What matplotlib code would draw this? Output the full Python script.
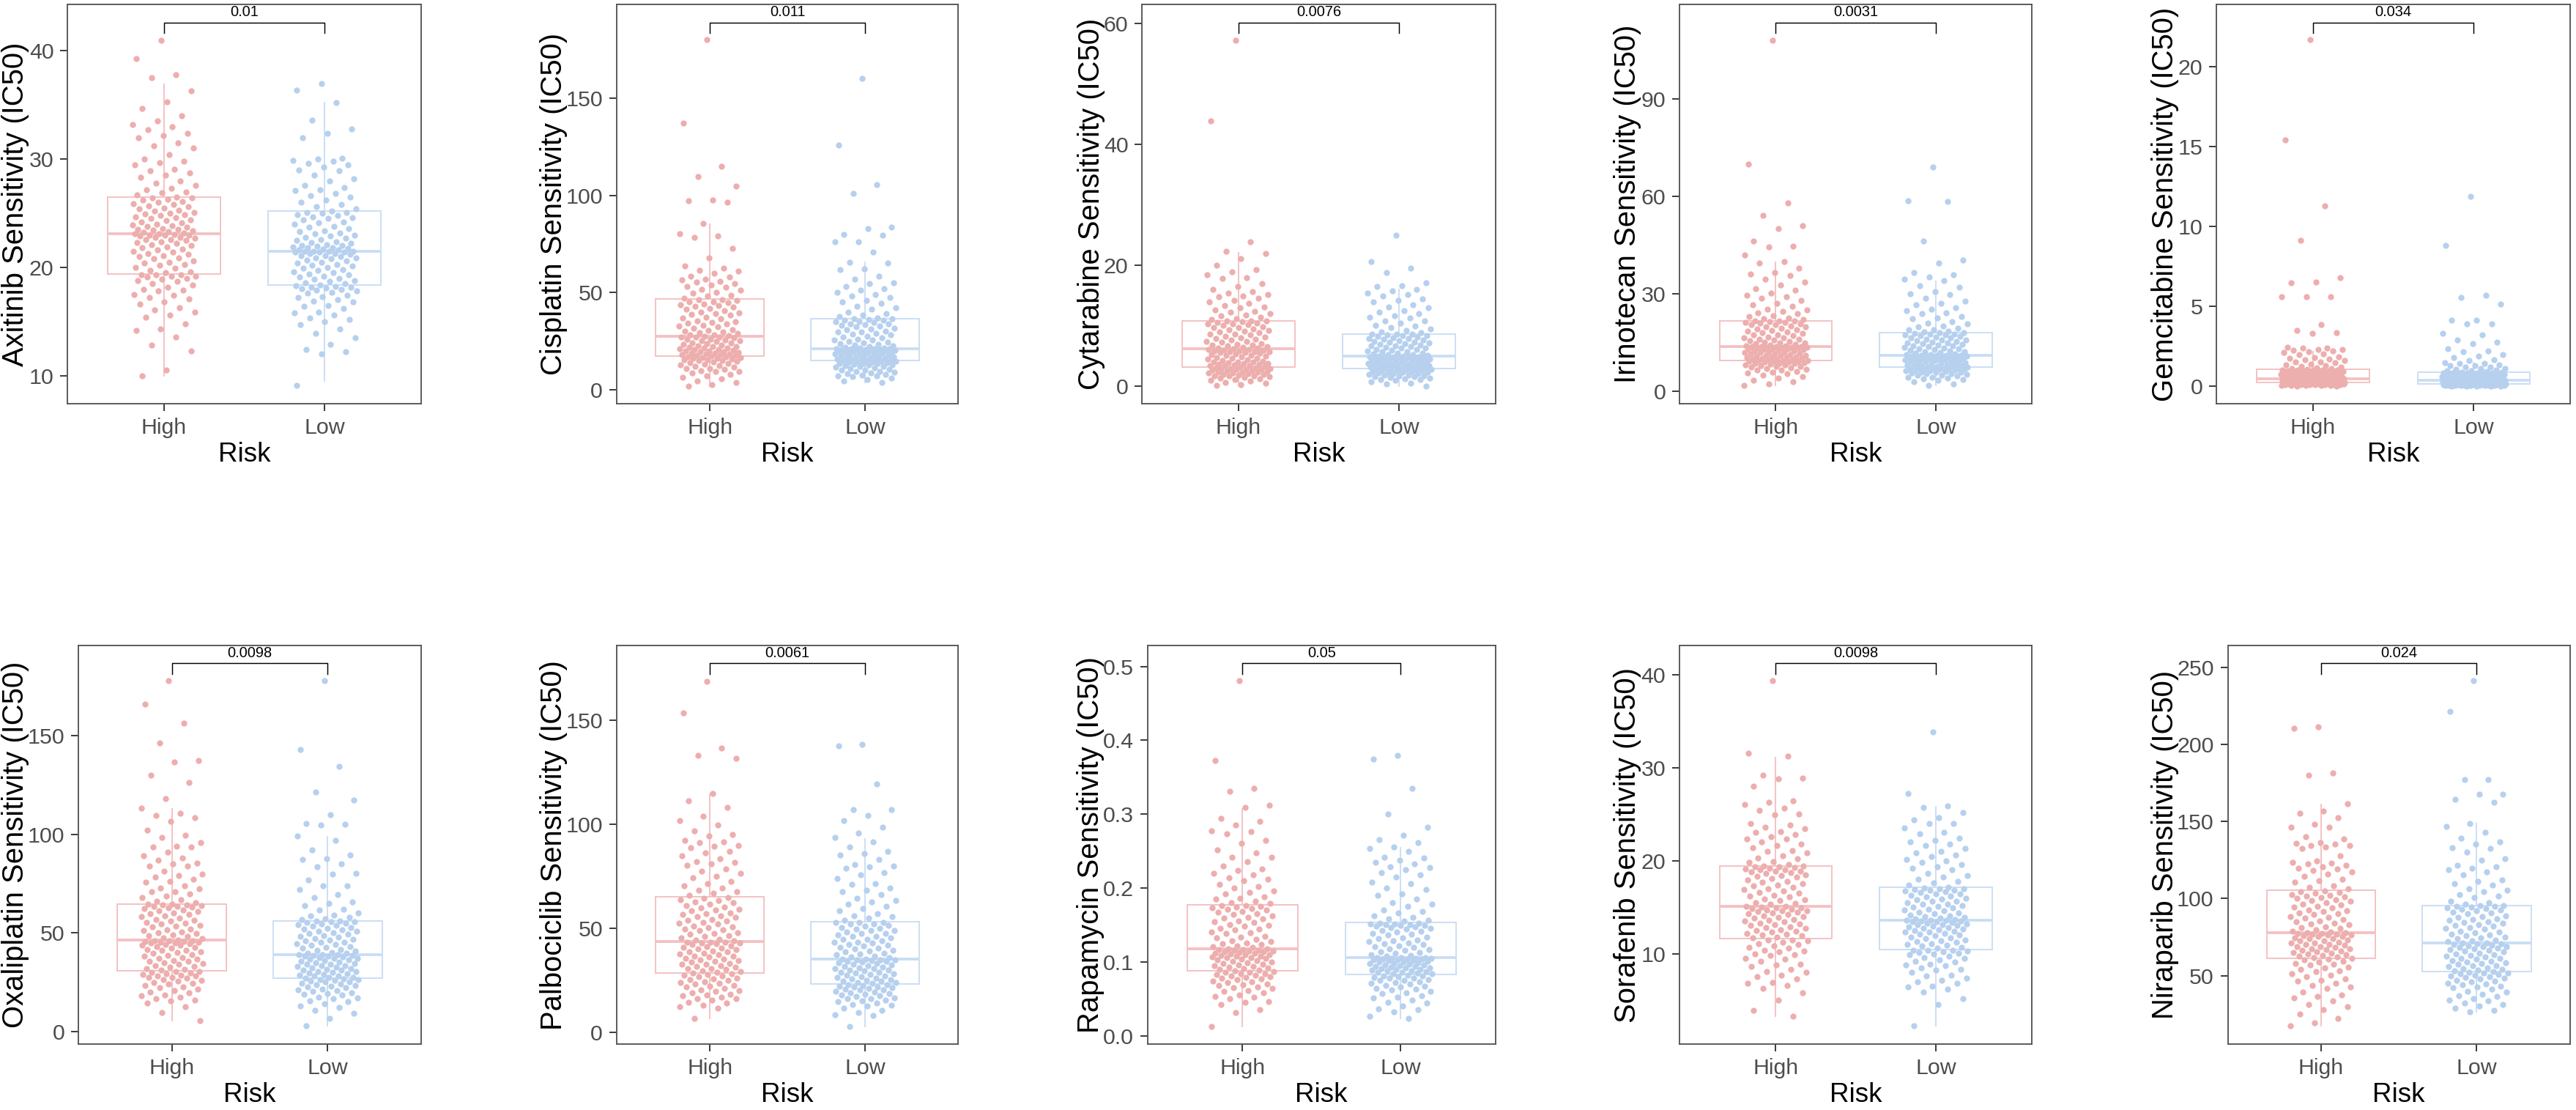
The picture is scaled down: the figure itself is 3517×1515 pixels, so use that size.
import matplotlib
matplotlib.use("Agg")
import matplotlib.pyplot as plt
from matplotlib import font_manager as fm
from matplotlib.ticker import FormatStrFormatter
import numpy as np

# drug names, p values, axis ranges and ticks
drugs = ["Axitinib", "Cisplatin", "Cytarabine", "Irinotecan", "Gemcitabine",
         "Oxaliplatin", "Palbociclib", "Rapamycin", "Sorafenib", "Niraparib"]
pvals = ["0.01", "0.011", "0.0076", "0.0031", "0.034",
         "0.0098", "0.0061", "0.05", "0.0098", "0.024"]
ylims = [(7.44, 44.27), (-7.1, 198.1), (-2.8, 63.16), (-3.8, 119.0), (-1.08, 23.88),
         (-6.6, 195.9), (-5.8, 186.1), (-0.0117, 0.5284), (0.26, 43.1), (5.4, 264.2)]
yticks = [[10, 20, 30, 40], [0, 50, 100, 150], [0, 20, 40, 60], [0, 30, 60, 90],
          [0, 5, 10, 15, 20], [0, 50, 100, 150], [0, 50, 100, 150],
          [0.0, 0.1, 0.2, 0.3, 0.4, 0.5], [10, 20, 30, 40], [50, 100, 150, 200, 250]]
groups = ["High", "Low"]

# box statistics: whisker low, Q1, median, Q3, whisker high
box_high = [[10.0, 19.4, 23.1, 26.5, 36.9], [1.7, 17.1, 27.5, 46.5, 85.0],
            [0.15, 3.2, 6.2, 10.9, 22.1], [1.7, 9.5, 13.8, 21.7, 39.7],
            [0.0, 0.23, 0.46, 1.04, 2.16], [5.5, 30.8, 46.2, 64.7, 112.9],
            [6.5, 28.6, 43.6, 65.1, 114.4], [0.012, 0.0877, 0.118, 0.177, 0.307],
            [3.3, 11.6, 15.1, 19.45, 31.1], [17.4, 61.4, 78.0, 105.5, 160.9]]
box_low = [[9.5, 18.35, 21.5, 25.2, 35.2], [3.7, 14.8, 21.1, 36.5, 65.5],
           [0.1, 3.0, 5.0, 8.7, 16.0], [1.7, 7.4, 11.0, 18.0, 33.8],
           [0.0, 0.14, 0.39, 0.85, 1.49], [2.8, 27.1, 39.1, 56.1, 98.7],
           [2.8, 23.1, 35.3, 53.1, 93.2], [0.023, 0.083, 0.106, 0.153, 0.255],
           [2.25, 10.45, 13.6, 17.1, 25.8], [26.4, 52.4, 71.4, 95.4, 148.5]]

# estimated sample values per drug and group (tails read point by point, bulk estimated)
axitinib_high = [10.0, 10.5, 12.3, 12.8, 13.6, 14.2, 14.3, 14.8, 15.4, 15.6, 15.9, 16.1, 16.3, 16.8, 17.1, 17.2, 17.5, 17.8, 18.0, 18.4, 18.7, 18.9, 19.0, 19.2, 19.3,
                 19.5, 19.7, 19.9, 20.2, 20.4, 20.6, 20.9, 21.1, 21.2, 21.4, 21.6, 21.8, 21.9, 22.0, 22.2, 22.3, 22.5, 22.6, 22.7, 22.8, 22.9, 23.0, 23.0, 23.1, 23.1,
                 23.2, 23.3, 23.4, 23.5, 23.6, 23.8, 23.9, 24.0, 24.2, 24.3, 24.5, 24.7, 24.8, 24.9, 25.0, 25.1, 25.2, 25.4, 25.6, 25.8, 26.0, 26.1, 26.2, 26.4, 26.5,
                 26.7, 27.0, 27.3, 27.6, 28.0, 28.3, 28.7, 29.1, 29.5, 29.8, 30.4, 31.0, 31.5, 32.0, 32.4, 32.7, 33.2, 33.5, 34.0, 34.7, 35.3, 36.3, 37.5, 37.8, 39.3, 41.0,
                 16.6, 17.4, 17.9, 18.2, 18.5, 18.8, 19.1, 19.2, 19.3, 19.35, 19.6, 20.0, 20.3, 20.5, 20.8, 21.0, 21.3, 21.5, 21.7, 22.1, 22.4, 22.6, 22.8, 22.95, 23.05,
                 23.25, 23.45, 23.55, 23.7, 23.85, 24.1, 24.4, 24.6, 24.95, 25.3, 25.5, 25.7, 25.9, 26.3, 26.45, 26.9, 27.2, 27.8, 28.5, 28.9, 29.7, 30.0, 31.2, 32.2, 33.0]
axitinib_low = [9.1, 12.0, 12.2, 12.4, 12.9, 13.5, 13.9, 14.3, 14.7, 15.0, 15.3, 15.6, 15.9, 16.2, 16.5, 16.8, 17.0, 17.2, 17.4, 17.6, 17.8, 18.0, 18.1, 18.2, 18.3,
                18.4, 18.6, 18.8, 19.0, 19.2, 19.4, 19.6, 19.8, 20.0, 20.2, 20.4, 20.5, 20.7, 20.8, 20.9, 21.0, 21.1, 21.2, 21.3, 21.4, 21.4, 21.5, 21.5, 21.5, 21.5,
                21.6, 21.7, 21.8, 21.9, 22.0, 22.1, 22.2, 22.4, 22.5, 22.7, 22.8, 23.0, 23.2, 23.4, 23.6, 23.8, 24.0, 24.2, 24.4, 24.6, 24.7, 24.9, 25.0, 25.1, 25.2,
                25.4, 25.8, 26.2, 26.5, 26.8, 27.1, 27.4, 28.2, 28.5, 28.9, 29.3, 29.6, 29.8, 30.0, 32.0, 32.4, 32.8, 33.6, 35.2, 36.4, 37.0,
                15.2, 15.8, 16.4, 16.9, 17.3, 17.7, 17.9, 18.05, 18.15, 18.25, 18.5, 18.7, 18.9, 19.1, 19.3, 19.5, 19.7, 19.9, 20.1, 20.3, 20.6, 20.85, 21.05, 21.25, 21.45,
                21.65, 21.75, 21.85, 21.95, 22.05, 22.3, 22.6, 22.9, 23.1, 23.3, 23.7, 24.1, 24.5, 24.8, 25.05, 25.6, 26.0, 26.6, 27.2, 27.6, 28.0, 29.0, 29.5, 29.9, 30.1]
cisplatin_high = [1.7, 2.5, 3.5, 4.5, 5.5, 6.3, 7.0, 7.8, 8.5, 9.2, 9.8, 10.5, 11.0, 11.7, 12.3, 12.8, 13.4, 14.0, 14.5, 15.0, 15.5, 16.0, 16.4, 16.8, 17.0,
                  17.3, 17.6, 17.9, 18.2, 18.6, 19.0, 19.4, 19.8, 20.2, 20.7, 21.2, 21.7, 22.2, 22.7, 23.2, 23.7, 24.2, 24.7, 25.2, 25.7, 26.1, 26.5, 26.9, 27.2, 27.4,
                  27.7, 28.3, 29.0, 29.8, 30.6, 31.4, 32.2, 33.0, 33.8, 34.6, 35.5, 36.4, 37.3, 38.2, 39.1, 40.0, 40.8, 41.6, 42.4, 43.2, 44.0, 44.7, 45.3, 45.9, 46.4,
                  47.0, 48.5, 50.0, 51.5, 53.0, 54.5, 55.8, 57.0, 58.5, 59.8, 60.8, 63.7, 67.8, 72.5, 78.3, 79.0, 80.3, 85.5, 96.3, 97.0, 97.5, 104.8, 109.7, 115.0, 137.0, 180.0,
                  9.5, 10.8, 12.0, 13.0, 14.2, 14.8, 15.3, 15.8, 16.2, 16.6, 17.5, 18.0, 18.4, 18.8, 19.6, 20.0, 20.5, 21.0, 21.5, 22.0, 23.0, 24.0, 25.0, 26.0, 27.0,
                  28.0, 29.4, 30.2, 31.0, 32.6, 34.2, 35.0, 36.8, 38.6, 39.5, 41.2, 42.8, 43.6, 45.0, 46.2, 48.0, 49.5, 51.0, 52.5, 54.0, 55.3, 56.5, 58.0, 61.5, 62.5]
cisplatin_low = [3.7, 4.5, 5.3, 6.0, 6.5, 7.0, 7.5, 8.0, 8.5, 9.0, 9.5, 10.0, 10.5, 11.0, 11.4, 11.8, 12.2, 12.6, 13.0, 13.3, 13.6, 13.9, 14.2, 14.5, 14.7,
                 14.9, 15.1, 15.4, 15.7, 16.0, 16.3, 16.6, 16.9, 17.2, 17.5, 17.8, 18.1, 18.4, 18.7, 19.0, 19.3, 19.6, 19.9, 20.1, 20.3, 20.5, 20.7, 20.9, 21.0, 21.1,
                 21.3, 21.8, 22.4, 23.0, 23.6, 24.2, 24.8, 25.4, 26.0, 26.7, 27.4, 28.1, 28.8, 29.5, 30.2, 30.9, 31.6, 32.3, 33.0, 33.7, 34.4, 35.0, 35.6, 36.1, 36.4,
                 37.0, 38.5, 40.0, 41.5, 43.0, 44.5, 46.0, 47.5, 49.0, 51.0, 54.4, 55.0, 58.4, 61.6, 65.0, 65.5, 70.6, 75.9, 76.2, 79.4, 80.0, 83.0, 83.5, 101.0, 105.6, 126.0, 160.0,
                 7.2, 8.2, 9.2, 10.2, 11.2, 12.0, 12.8, 13.4, 14.0, 14.6, 15.0, 15.6, 16.2, 16.8, 17.4, 18.0, 18.6, 19.2, 19.8, 20.0, 20.2, 20.4, 20.6, 20.8, 21.05,
                 21.5, 22.0, 23.3, 24.5, 25.7, 27.0, 28.4, 29.8, 31.2, 32.6, 33.4, 34.0, 34.8, 35.8, 36.3, 37.5, 39.0, 42.0, 45.0, 48.0, 50.0, 52.0, 53.0, 57.0, 62.0]
cytarabine_high = [0.15, 0.3, 0.5, 0.7, 0.9, 1.0, 1.2, 1.3, 1.5, 1.6, 1.7, 1.8, 1.9, 2.0, 2.1, 2.2, 2.3, 2.4, 2.5, 2.6, 2.7, 2.8, 2.9, 3.0, 3.1,
                   3.3, 3.4, 3.5, 3.6, 3.7, 3.8, 3.9, 4.0, 4.1, 4.3, 4.4, 4.5, 4.7, 4.8, 5.0, 5.1, 5.3, 5.4, 5.6, 5.7, 5.8, 5.9, 6.0, 6.1, 6.2,
                   6.3, 6.5, 6.7, 6.9, 7.1, 7.3, 7.5, 7.7, 7.9, 8.1, 8.3, 8.5, 8.7, 8.9, 9.1, 9.3, 9.5, 9.7, 9.9, 10.1, 10.3, 10.5, 10.6, 10.8, 10.9,
                   11.1, 11.4, 11.7, 12.0, 12.3, 12.6, 13.0, 13.4, 13.8, 14.2, 14.6, 15.0, 15.4, 15.7, 16.0, 17.0, 17.9, 18.5, 19.0, 19.3, 21.2, 22.0, 22.3, 23.9, 43.9, 57.3,
                   1.4, 1.8, 2.0, 2.2, 2.4, 2.6, 2.8, 2.9, 3.0, 3.1, 3.25, 3.45, 3.65, 3.85, 4.05, 4.2, 4.6, 4.9, 5.2, 5.5, 5.65, 5.75, 5.85, 6.05, 6.15,
                   6.4, 6.6, 6.8, 7.0, 7.4, 7.8, 8.2, 8.6, 9.0, 9.4, 9.8, 10.2, 10.4, 10.7, 10.85, 11.2, 11.8, 12.4, 13.2, 14.0, 14.8, 15.2, 16.5, 18.0, 20.0]
cytarabine_low = [0.1, 0.4, 0.6, 0.8, 1.0, 1.1, 1.2, 1.4, 1.5, 1.6, 1.7, 1.8, 1.9, 2.0, 2.1, 2.2, 2.3, 2.4, 2.5, 2.6, 2.7, 2.8, 2.85, 2.9, 2.95,
                  3.05, 3.1, 3.2, 3.3, 3.4, 3.5, 3.55, 3.6, 3.7, 3.8, 3.9, 4.0, 4.1, 4.2, 4.3, 4.4, 4.5, 4.6, 4.7, 4.75, 4.8, 4.85, 4.9, 4.95, 5.0,
                  5.1, 5.25, 5.4, 5.55, 5.7, 5.85, 6.0, 6.15, 6.3, 6.45, 6.6, 6.75, 6.9, 7.05, 7.2, 7.35, 7.5, 7.65, 7.8, 7.95, 8.1, 8.25, 8.4, 8.55, 8.7,
                  8.9, 9.3, 9.7, 10.1, 10.5, 10.9, 11.3, 11.7, 12.1, 12.5, 13.0, 13.5, 14.0, 14.5, 15.0, 15.5, 16.0, 16.5, 16.7, 17.1, 18.9, 19.6, 20.6, 25.0,
                  1.3, 1.6, 1.9, 2.1, 2.3, 2.5, 2.6, 2.7, 2.8, 2.9, 3.15, 3.25, 3.35, 3.45, 3.65, 3.75, 3.85, 4.05, 4.15, 4.25, 4.45, 4.55, 4.65, 4.85, 4.95,
                  5.05, 5.3, 5.5, 5.8, 6.1, 6.4, 6.7, 7.0, 7.3, 7.6, 7.9, 8.2, 8.45, 8.6, 8.65, 9.0, 9.5, 10.0, 10.8, 11.5, 12.3, 13.2, 14.2, 15.2, 15.8]
irinotecan_high = [1.7, 2.2, 2.8, 3.4, 4.0, 4.5, 5.0, 5.4, 5.8, 6.1, 6.4, 6.7, 7.0, 7.3, 7.5, 7.8, 8.0, 8.2, 8.4, 8.6, 8.8, 9.0, 9.1, 9.3, 9.4,
                   9.6, 9.8, 10.0, 10.2, 10.4, 10.6, 10.8, 11.0, 11.2, 11.4, 11.6, 11.8, 12.0, 12.2, 12.4, 12.6, 12.8, 13.0, 13.1, 13.2, 13.3, 13.4, 13.5, 13.6, 13.7,
                   13.9, 14.2, 14.5, 14.8, 15.1, 15.4, 15.7, 16.0, 16.3, 16.6, 17.0, 17.4, 17.8, 18.2, 18.6, 19.0, 19.4, 19.8, 20.1, 20.4, 20.7, 21.0, 21.2, 21.4, 21.6,
                   22.0, 22.6, 23.2, 23.8, 24.5, 25.2, 26.0, 27.0, 28.0, 29.0, 30.2, 31.1, 32.6, 34.5, 35.7, 36.4, 37.8, 39.5, 39.9, 41.8, 44.4, 44.7, 46.3, 50.0, 51.0,
                   54.0, 58.0, 70.0, 108.0,
                   5.6, 6.5, 7.2, 7.7, 8.1, 8.5, 8.9, 9.15, 9.25, 9.45, 9.7, 9.9, 10.3, 10.5, 10.9, 11.1, 11.5, 11.9, 12.3, 12.7, 13.05, 13.25, 13.45, 13.65, 13.75,
                   14.0, 14.4, 14.9, 15.3, 15.9, 16.5, 17.2, 17.9, 18.5, 19.2, 19.9, 20.5, 21.1, 21.5, 21.65, 22.3, 23.0, 24.0, 25.0, 26.5, 28.5, 29.5, 31.5, 33.5, 36.0]
irinotecan_low = [1.7, 2.3, 2.8, 3.3, 3.7, 4.0, 4.3, 4.6, 4.9, 5.1, 5.3, 5.5, 5.7, 5.9, 6.1, 6.3, 6.4, 6.6, 6.7, 6.9, 7.0, 7.1, 7.2, 7.3, 7.35,
                  7.5, 7.7, 7.9, 8.1, 8.3, 8.5, 8.7, 8.9, 9.1, 9.3, 9.5, 9.6, 9.8, 9.9, 10.0, 10.1, 10.3, 10.4, 10.5, 10.6, 10.7, 10.8, 10.9, 10.95, 11.0,
                  11.2, 11.5, 11.8, 12.1, 12.4, 12.7, 13.0, 13.3, 13.6, 13.9, 14.2, 14.5, 14.8, 15.1, 15.4, 15.7, 16.0, 16.3, 16.6, 16.9, 17.2, 17.4, 17.6, 17.8, 17.95,
                  18.3, 18.8, 19.4, 20.0, 20.7, 21.4, 22.2, 23.0, 23.8, 24.7, 25.6, 26.6, 27.6, 28.6, 29.7, 30.7, 31.9, 34.0, 34.5, 35.1, 35.9, 36.4, 39.5, 40.4, 46.3,
                  58.4, 58.5, 69.0,
                  3.5, 4.2, 4.8, 5.4, 5.8, 6.2, 6.5, 6.8, 7.05, 7.25, 7.6, 7.8, 8.0, 8.4, 8.8, 9.0, 9.4, 9.7, 9.95, 10.15, 10.35, 10.55, 10.75, 10.85, 10.98,
                  11.3, 11.7, 12.2, 12.6, 13.1, 13.5, 14.0, 14.4, 14.9, 15.3, 15.8, 16.4, 17.0, 17.5, 17.9, 18.5, 19.0, 19.8, 21.0, 22.5, 24.0, 25.2, 27.0, 30.0, 32.5]
gemcitabine_high = [0.0, 0.02, 0.03, 0.04, 0.05, 0.06, 0.07, 0.08, 0.09, 0.10, 0.11, 0.12, 0.13, 0.14, 0.15, 0.16, 0.17, 0.18, 0.19, 0.20, 0.21, 0.21, 0.22, 0.22, 0.23,
                    0.24, 0.25, 0.26, 0.27, 0.28, 0.29, 0.30, 0.31, 0.32, 0.33, 0.34, 0.35, 0.36, 0.37, 0.38, 0.39, 0.40, 0.41, 0.42, 0.43, 0.44, 0.44, 0.45, 0.45, 0.46,
                    0.48, 0.50, 0.52, 0.55, 0.58, 0.60, 0.62, 0.65, 0.68, 0.70, 0.72, 0.75, 0.78, 0.80, 0.82, 0.85, 0.88, 0.90, 0.92, 0.94, 0.96, 0.98, 1.00, 1.02, 1.04,
                    1.08, 1.15, 1.22, 1.30, 1.38, 1.45, 1.52, 1.60, 1.65, 1.75, 1.80, 1.95, 2.10, 2.20, 2.25, 2.30, 2.40, 2.45, 3.30, 3.35, 3.50, 3.86,
                    5.60, 5.60, 5.60, 6.45, 6.50, 6.80, 9.15, 11.3, 15.4, 21.7,
                    0.05, 0.08, 0.1, 0.12, 0.14, 0.16, 0.18, 0.2, 0.21, 0.22, 0.24, 0.26, 0.28, 0.3, 0.32, 0.34, 0.36, 0.38, 0.4, 0.42, 0.43, 0.44, 0.45, 0.455, 0.46,
                    0.49, 0.53, 0.57, 0.61, 0.66, 0.71, 0.76, 0.81, 0.86, 0.9, 0.93, 0.97, 1.0, 1.02, 1.03, 1.1, 1.2, 1.35, 1.5, 1.7, 1.85, 2.0, 2.15, 2.3, 2.4]
gemcitabine_low = [0.0, 0.01, 0.015, 0.02, 0.025, 0.03, 0.035, 0.04, 0.045, 0.05, 0.055, 0.06, 0.065, 0.07, 0.075, 0.08, 0.085, 0.09, 0.095, 0.10, 0.11, 0.12, 0.125, 0.13, 0.135,
                   0.15, 0.16, 0.17, 0.18, 0.19, 0.20, 0.21, 0.22, 0.23, 0.24, 0.25, 0.26, 0.27, 0.28, 0.29, 0.30, 0.31, 0.32, 0.33, 0.34, 0.35, 0.36, 0.37, 0.38, 0.39,
                   0.41, 0.43, 0.45, 0.47, 0.49, 0.51, 0.53, 0.55, 0.57, 0.59, 0.61, 0.63, 0.65, 0.67, 0.69, 0.71, 0.73, 0.75, 0.77, 0.79, 0.80, 0.81, 0.82, 0.84, 0.85,
                   0.90, 0.98, 1.05, 1.12, 1.20, 1.28, 1.35, 1.42, 1.49, 1.65, 1.80, 1.95, 2.15, 2.35, 2.65, 2.75, 2.9, 3.2, 3.3, 3.9, 3.9, 4.15, 4.15,
                   5.15, 5.55, 5.7, 8.8, 11.9,
                   0.02, 0.04, 0.06, 0.08, 0.09, 0.1, 0.11, 0.12, 0.13, 0.135, 0.155, 0.175, 0.195, 0.215, 0.235, 0.255, 0.275, 0.295, 0.315, 0.335, 0.355, 0.37, 0.38, 0.385, 0.39,
                   0.42, 0.46, 0.5, 0.54, 0.58, 0.62, 0.66, 0.7, 0.74, 0.78, 0.8, 0.82, 0.83, 0.84, 0.845, 0.88, 0.95, 1.0, 1.1, 1.2, 1.3, 1.4, 1.6, 1.9, 2.2]
oxaliplatin_high = [5.5, 9.5, 12.5, 14.5, 15.5, 16.5, 17.5, 18.5, 19.5, 20.5, 21.5, 22.5, 23.3, 24.0, 24.8, 25.5, 26.2, 26.9, 27.5, 28.0, 28.5, 29.0, 29.5, 30.0, 30.5,
                    31.2, 31.9, 32.6, 33.3, 34.0, 34.7, 35.4, 36.1, 36.8, 37.5, 38.2, 38.9, 39.6, 40.3, 41.0, 41.7, 42.4, 43.0, 43.6, 44.2, 44.7, 45.1, 45.5, 45.8, 46.1,
                    46.5, 47.3, 48.1, 48.9, 49.7, 50.5, 51.3, 52.1, 52.9, 53.7, 54.5, 55.3, 56.1, 56.9, 57.7, 58.5, 59.3, 60.1, 60.9, 61.7, 62.4, 63.0, 63.6, 64.1, 64.6,
                    65.5, 67.0, 67.8, 69.7, 70.9, 72.5, 72.8, 75.6, 77.2, 78.4, 79.0, 81.4, 83.8, 85.0, 85.5, 88.2, 89.0, 93.5, 93.6, 94.1, 98.3, 99.4,
                    102.0, 106.6, 108.5, 109.8, 110.7, 113.5, 118.2, 126.4, 130.1, 136.7, 137.5, 146.3, 156.6, 166.0, 178.0,
                    16.0, 18.0, 20.0, 22.0, 24.4, 26.0, 27.2, 28.2, 29.2, 30.2, 31.5, 32.9, 34.3, 35.7, 37.1, 38.5, 39.9, 41.3, 42.7, 43.8, 44.5, 45.0, 45.4, 45.7, 46.0,
                    47.0, 48.5, 50.1, 51.7, 53.3, 54.9, 56.5, 58.1, 59.7, 61.3, 62.7, 63.3, 63.8, 64.3, 64.5, 66.0, 68.5, 71.0, 74.0, 76.0, 80.0, 84.0, 87.0, 91.0, 96.0]
oxaliplatin_low = [2.8, 6.5, 9.0, 12.0, 14.0, 15.5, 16.5, 17.5, 18.3, 19.0, 19.7, 20.4, 21.0, 21.6, 22.2, 22.8, 23.4, 24.0, 24.5, 25.0, 25.5, 26.0, 26.4, 26.7, 27.0,
                   27.5, 28.0, 28.5, 29.0, 29.5, 30.0, 30.5, 31.0, 31.5, 32.0, 32.5, 33.0, 33.5, 34.0, 34.5, 35.0, 35.5, 36.0, 36.5, 37.0, 37.5, 38.0, 38.4, 38.8, 39.0,
                   39.5, 40.2, 40.9, 41.6, 42.3, 43.0, 43.7, 44.4, 45.1, 45.8, 46.5, 47.2, 47.9, 48.6, 49.3, 50.0, 50.7, 51.4, 52.1, 52.8, 53.5, 54.2, 54.9, 55.5, 56.0,
                   56.8, 57.8, 58.8, 60.0, 61.5, 63.9, 65.8, 69.4, 73.8, 74.0, 79.9, 80.3, 83.5, 87.4, 87.8, 89.7, 99.1, 104.6, 105.0, 105.4, 110.1, 117.6,
                   121.4, 134.4, 143.0, 177.9,
                   10.5, 13.0, 15.0, 17.0, 19.3, 20.7, 22.5, 23.7, 25.2, 26.2, 27.2, 28.2, 29.2, 30.2, 31.2, 32.2, 33.2, 34.2, 35.2, 36.2, 37.2, 37.8, 38.2, 38.6, 38.9,
                   39.8, 41.2, 42.6, 44.0, 45.4, 46.8, 48.2, 49.6, 51.0, 52.4, 53.8, 54.6, 55.2, 55.7, 55.9, 57.3, 59.0, 62.0, 65.0, 68.0, 72.0, 77.0, 85.0, 92.0, 97.0]
palbociclib_high = [6.5, 11.5, 13.0, 14.5, 15.5, 16.3, 17.0, 17.7, 18.4, 19.1, 19.8, 20.5, 21.2, 21.9, 22.5, 23.1, 23.7, 24.3, 24.9, 25.5, 26.1, 26.7, 27.3, 27.9, 28.4,
                    29.0, 29.6, 30.2, 30.8, 31.4, 32.0, 32.6, 33.2, 33.8, 34.4, 35.0, 35.6, 36.2, 36.8, 37.4, 38.0, 38.6, 39.2, 39.8, 40.4, 41.0, 41.6, 42.2, 42.8, 43.4,
                    44.0, 44.8, 45.6, 46.4, 47.2, 48.0, 48.8, 49.6, 50.4, 51.2, 52.0, 52.8, 53.6, 54.4, 55.2, 56.0, 56.8, 57.6, 58.4, 59.2, 60.4, 61.6, 62.8, 63.9, 65.0,
                    66.0, 67.5, 69.4, 70.6, 71.4, 74.3, 75.1, 76.6, 78.5, 80.3, 81.0, 81.8, 82.2, 86.2, 87.2, 88.9, 89.5, 91.2, 91.8, 92.4, 94.4, 99.9,
                    101.8, 108.2, 111.3, 114.8, 132.0, 133.2, 136.6, 153.6, 169.0,
                    12.2, 14.0, 16.0, 18.0, 20.0, 22.2, 24.0, 25.8, 27.0, 28.0, 29.3, 30.5, 31.7, 32.9, 34.1, 35.3, 36.5, 37.7, 38.9, 40.1, 41.3, 42.5, 43.0, 43.2, 43.5,
                    44.4, 46.0, 47.6, 49.2, 50.8, 52.4, 54.0, 55.6, 57.2, 58.8, 60.0, 61.0, 62.2, 63.4, 64.5, 66.8, 68.5, 72.5, 77.5, 83.5, 85.0, 90.0, 95.0, 97.0, 104.0]
palbociclib_low = [2.8, 8.5, 9.5, 11.5, 12.5, 13.3, 14.0, 14.7, 15.4, 16.0, 16.6, 17.2, 17.8, 18.3, 18.8, 19.3, 19.8, 20.3, 20.7, 21.1, 21.5, 21.9, 22.3, 22.7, 23.0,
                   23.5, 24.0, 24.5, 25.0, 25.5, 26.0, 26.5, 27.0, 27.5, 28.0, 28.5, 29.0, 29.5, 30.0, 30.5, 31.0, 31.5, 32.0, 32.5, 33.0, 33.5, 34.0, 34.5, 34.9, 35.2,
                   35.8, 36.5, 37.2, 37.9, 38.6, 39.3, 40.0, 40.7, 41.4, 42.1, 42.8, 43.5, 44.2, 44.9, 45.6, 46.3, 47.0, 47.7, 48.4, 49.1, 49.8, 50.5, 51.2, 52.0, 53.0,
                   54.0, 55.5, 57.0, 58.5, 60.5, 62.8, 63.6, 66.2, 67.7, 68.4, 71.1, 71.4, 75.8, 77.0, 78.8, 79.8, 80.1, 80.7, 85.2, 85.9, 87.2, 91.7, 93.6,
                   98.7, 101.8, 104.2, 107.0, 107.0, 119.4, 137.7, 138.4,
                   8.0, 10.5, 13.0, 15.0, 16.3, 17.5, 19.0, 20.5, 21.7, 22.5, 23.8, 24.8, 25.8, 26.8, 27.8, 28.8, 29.8, 30.8, 31.8, 32.8, 33.8, 34.3, 34.7, 35.0, 35.1,
                   36.2, 37.6, 39.0, 40.4, 41.8, 43.2, 44.6, 46.0, 47.4, 48.8, 50.2, 51.6, 52.3, 52.7, 52.9, 55.0, 56.0, 59.5, 61.5, 64.5, 69.5, 74.0, 83.0, 89.0, 96.0]
rapamycin_high = [0.012, 0.031, 0.035, 0.042, 0.046, 0.050, 0.052, 0.055, 0.058, 0.061, 0.064, 0.066, 0.068, 0.070, 0.072, 0.074, 0.076, 0.078, 0.079, 0.080, 0.082, 0.083, 0.084, 0.086, 0.087,
                  0.089, 0.090, 0.092, 0.093, 0.095, 0.096, 0.098, 0.099, 0.100, 0.102, 0.103, 0.105, 0.106, 0.107, 0.108, 0.109, 0.110, 0.111, 0.112, 0.113, 0.114, 0.115, 0.116, 0.117, 0.118,
                  0.120, 0.122, 0.124, 0.126, 0.128, 0.131, 0.133, 0.135, 0.138, 0.140, 0.143, 0.145, 0.148, 0.150, 0.153, 0.155, 0.158, 0.160, 0.162, 0.165, 0.167, 0.170, 0.172, 0.174, 0.176,
                  0.179, 0.182, 0.185, 0.188, 0.192, 0.196, 0.200, 0.205, 0.210, 0.214, 0.218, 0.220, 0.226, 0.230, 0.242, 0.242, 0.252, 0.261, 0.273, 0.276,
                  0.277, 0.290, 0.294, 0.309, 0.312, 0.331, 0.335, 0.373, 0.481,
                  0.045, 0.053, 0.060, 0.065, 0.069, 0.073, 0.077, 0.081, 0.084, 0.086, 0.088, 0.091, 0.094, 0.097, 0.101, 0.104, 0.106, 0.108, 0.110, 0.112, 0.114, 0.115, 0.116, 0.117, 0.1175,
                  0.121, 0.125, 0.129, 0.134, 0.139, 0.144, 0.149, 0.154, 0.159, 0.164, 0.168, 0.171, 0.173, 0.175, 0.176, 0.180, 0.186, 0.194, 0.202, 0.212, 0.224, 0.236, 0.248, 0.265, 0.285]
rapamycin_low = [0.023, 0.026, 0.032, 0.036, 0.040, 0.044, 0.048, 0.051, 0.054, 0.057, 0.060, 0.062, 0.064, 0.066, 0.068, 0.070, 0.072, 0.073, 0.075, 0.076, 0.078, 0.079, 0.080, 0.081, 0.082,
                 0.084, 0.085, 0.086, 0.087, 0.088, 0.089, 0.090, 0.091, 0.092, 0.093, 0.094, 0.095, 0.096, 0.097, 0.098, 0.099, 0.100, 0.101, 0.102, 0.103, 0.104, 0.104, 0.105, 0.105, 0.106,
                 0.108, 0.110, 0.112, 0.114, 0.116, 0.118, 0.120, 0.122, 0.124, 0.126, 0.128, 0.130, 0.132, 0.134, 0.136, 0.138, 0.140, 0.142, 0.144, 0.146, 0.148, 0.149, 0.150, 0.151, 0.152,
                 0.155, 0.158, 0.162, 0.166, 0.170, 0.175, 0.180, 0.185, 0.192, 0.200, 0.208, 0.215, 0.218, 0.221, 0.228, 0.229, 0.233, 0.238, 0.241, 0.242,
                 0.254, 0.256, 0.262, 0.266, 0.271, 0.282, 0.300, 0.335, 0.375, 0.380,
                 0.035, 0.045, 0.052, 0.058, 0.063, 0.067, 0.071, 0.075, 0.078, 0.081, 0.0835, 0.0855, 0.0875, 0.0895, 0.0915, 0.0935, 0.0955, 0.0975, 0.0995, 0.1015, 0.1025, 0.1035, 0.1045, 0.1055, 0.1058,
                 0.109, 0.113, 0.117, 0.121, 0.125, 0.129, 0.133, 0.137, 0.141, 0.145, 0.147, 0.149, 0.150, 0.151, 0.152, 0.156, 0.160, 0.168, 0.178, 0.190, 0.198, 0.206, 0.225, 0.235, 0.250]
sorafenib_high = [3.3, 3.9, 5.0, 5.8, 6.3, 6.6, 6.9, 7.3, 7.7, 8.0, 8.3, 8.6, 8.9, 9.2, 9.5, 9.8, 10.0, 10.2, 10.4, 10.6, 10.8, 11.0, 11.2, 11.4, 11.5,
                  11.7, 11.9, 12.1, 12.3, 12.4, 12.6, 12.7, 12.9, 13.0, 13.2, 13.3, 13.5, 13.6, 13.8, 13.9, 14.1, 14.2, 14.4, 14.5, 14.6, 14.7, 14.8, 14.9, 15.0, 15.1,
                  15.3, 15.5, 15.7, 15.9, 16.1, 16.3, 16.5, 16.7, 16.9, 17.1, 17.3, 17.5, 17.7, 17.9, 18.1, 18.3, 18.5, 18.7, 18.8, 18.9, 19.0, 19.1, 19.2, 19.3, 19.4,
                  19.6, 19.9, 20.2, 20.5, 20.8, 21.1, 21.4, 21.8, 22.3, 22.3, 22.6, 23.0, 23.1, 23.4, 23.6, 24.0, 24.9, 25.4, 25.6, 26.3, 26.4, 28.8, 28.9, 29.2,
                  31.25, 31.5, 39.3,
                  6.8, 7.5, 8.1, 8.8, 9.4, 9.9, 10.3, 10.7, 11.1, 11.45, 11.8, 12.0, 12.2, 12.5, 12.8, 13.1, 13.4, 13.7, 14.0, 14.3, 14.45, 14.65, 14.85, 14.95, 15.05,
                  15.4, 15.8, 16.2, 16.6, 17.0, 17.4, 17.8, 18.2, 18.4, 18.6, 18.85, 19.05, 19.25, 19.35, 19.45, 19.8, 20.3, 21.0, 21.6, 22.0, 22.8, 23.8, 25.0, 26.0, 28.0]
sorafenib_low = [2.25, 4.5, 5.9, 6.2, 6.5, 6.8, 7.1, 7.4, 7.7, 8.0, 8.3, 8.5, 8.7, 8.9, 9.1, 9.3, 9.5, 9.7, 9.9, 10.0, 10.1, 10.2, 10.3, 10.4, 10.4,
                 10.6, 10.8, 11.0, 11.2, 11.4, 11.6, 11.8, 12.0, 12.2, 12.3, 12.4, 12.5, 12.6, 12.7, 12.8, 12.9, 13.0, 13.1, 13.2, 13.3, 13.4, 13.45, 13.5, 13.55, 13.6,
                 13.7, 13.85, 14.0, 14.15, 14.3, 14.45, 14.6, 14.75, 14.9, 15.05, 15.2, 15.35, 15.5, 15.65, 15.8, 15.95, 16.1, 16.25, 16.4, 16.55, 16.7, 16.8, 16.9, 17.0, 17.1,
                 17.4, 17.8, 18.2, 18.6, 19.0, 19.3, 19.6, 20.0, 20.1, 20.6, 20.8, 21.3, 21.6, 21.8, 22.0, 22.4, 22.9, 23.0, 24.0, 24.0, 24.4, 24.6, 25.7, 25.9,
                 27.2, 33.8,
                 5.2, 6.4, 7.0, 7.6, 8.2, 8.8, 9.2, 9.6, 10.05, 10.35, 10.7, 10.9, 11.1, 11.3, 11.5, 11.7, 11.9, 12.1, 12.35, 12.65, 12.95, 13.15, 13.35, 13.5, 13.58,
                 13.75, 13.9, 14.1, 14.4, 14.7, 15.0, 15.3, 15.6, 15.9, 16.2, 16.45, 16.65, 16.85, 16.95, 17.05, 17.6, 18.0, 18.4, 19.2, 19.8, 20.4, 21.0, 22.2, 23.5, 25.2]
niraparib_high = [17.4, 19.5, 22.0, 25.0, 28.0, 31.0, 33.5, 35.5, 37.5, 39.5, 41.5, 43.5, 45.0, 46.5, 48.0, 49.5, 51.0, 52.5, 54.0, 55.5, 56.8, 58.0, 59.2, 60.3, 61.0,
                  62.0, 62.7, 63.4, 64.1, 64.8, 65.5, 66.2, 66.9, 67.6, 68.3, 69.0, 69.7, 70.4, 71.1, 71.8, 72.5, 73.2, 73.9, 74.6, 75.3, 76.0, 76.6, 77.1, 77.5, 77.9,
                  78.5, 79.6, 80.7, 81.8, 82.9, 84.0, 85.1, 86.2, 87.3, 88.4, 89.5, 90.6, 91.7, 92.8, 93.9, 95.0, 96.1, 97.2, 98.3, 99.4, 100.5, 101.6, 102.7, 103.8, 105.0,
                  106.5, 108.5, 110.5, 112.5, 114.5, 117.5, 118.1, 119.3, 120.5, 121.5, 122.5, 122.9, 124.5, 132.5, 133.3, 134.5, 134.5, 135.9, 136.1, 138.5,
                  146.5, 146.5, 152.5, 155.3, 161.3, 180.0, 181.3, 210.6, 211.6,
                  30.0, 36.5, 42.5, 47.0, 50.2, 53.2, 55.0, 57.4, 58.6, 60.7, 61.7, 63.0, 64.4, 65.8, 67.2, 68.6, 70.0, 71.4, 72.8, 74.2, 75.6, 76.3, 76.9, 77.3, 77.7,
                  79.0, 81.2, 83.4, 85.6, 87.8, 90.0, 92.2, 94.4, 96.6, 98.8, 100.0, 101.0, 102.2, 103.3, 104.5, 107.5, 111.5, 116.0, 119.8, 123.5, 128.0, 135.2, 140.0, 148.0, 157.0]
niraparib_low = [26.4, 27.5, 29.0, 30.5, 32.0, 33.5, 35.0, 36.5, 38.0, 39.5, 41.0, 42.0, 43.0, 44.0, 45.0, 46.0, 47.0, 47.8, 48.6, 49.3, 50.0, 50.6, 51.2, 51.7, 52.2,
                 52.8, 53.5, 54.2, 55.0, 55.8, 56.6, 57.4, 58.2, 59.0, 59.8, 60.6, 61.4, 62.2, 63.0, 63.8, 64.6, 65.4, 66.2, 67.0, 67.8, 68.6, 69.4, 70.1, 70.8, 71.3,
                 72.0, 73.0, 74.0, 75.0, 76.0, 77.0, 78.0, 79.0, 80.0, 81.0, 82.0, 83.0, 84.0, 85.0, 86.0, 87.0, 88.0, 89.0, 90.0, 91.0, 92.0, 93.0, 94.0, 94.8, 95.3,
                 96.5, 98.5, 100.5, 102.5, 104.5, 106.5, 108.9, 109.5, 110.9, 115.5, 117.1, 118.5, 119.5, 121.5, 126.1, 132.5, 132.9, 135.5, 139.1, 148.9,
                 162.5, 164.5, 167.7, 167.7, 177.1, 177.1, 221.4, 241.4,
                 31.0, 34.0, 37.0, 40.0, 42.5, 44.5, 46.5, 48.2, 50.3, 51.5, 53.0, 54.6, 56.2, 57.8, 59.4, 61.0, 62.6, 64.2, 65.8, 67.4, 68.2, 69.0, 69.8, 70.5, 71.1,
                 72.5, 74.5, 76.5, 78.5, 80.5, 82.5, 84.5, 86.5, 88.5, 90.5, 92.5, 93.5, 94.3, 95.0, 95.2, 97.5, 101.5, 105.5, 112.0, 120.5, 125.0, 130.0, 137.0, 143.0, 147.0]

values_high = [axitinib_high, cisplatin_high, cytarabine_high, irinotecan_high, gemcitabine_high,
               oxaliplatin_high, palbociclib_high, rapamycin_high, sorafenib_high, niraparib_high]
values_low = [axitinib_low, cisplatin_low, cytarabine_low, irinotecan_low, gemcitabine_low,
              oxaliplatin_low, palbociclib_low, rapamycin_low, sorafenib_low, niraparib_low]

col_high = "#EDAEAE"
col_low = "#B6D0EE"
box_col_high = "#F4C0C2"
box_col_low = "#C9DDF4"

# axes rectangles [left, right] in figure fractions
lr = [(0.0263, 0.1634), (0.2394, 0.3720), (0.4434, 0.5805), (0.6520, 0.7888), (0.8605, 0.9977),
      (0.0305, 0.1634), (0.2394, 0.3720), (0.4455, 0.5805), (0.6520, 0.7888), (0.8648, 0.9977)]
row_bottom = [0.6366, 0.0592]
ax_h = 0.3592
# y label centre, in axes fraction
ylab_x = [-0.148, -0.185, -0.145, -0.147, -0.145, -0.184, -0.185, -0.163, -0.147, -0.182]

fig = plt.figure(figsize=(3517 / 300, 1515 / 300), dpi=300)
fig.patch.set_facecolor("white")

label_font = ["Liberation Sans", "DejaVu Sans"]
installed = {f.name for f in fm.fontManager.ttflist}
if "Liberation Sans Narrow" in installed:
    tick_font, tick_size = "Liberation Sans Narrow", 7.9
else:
    tick_font, tick_size = "Liberation Sans", 7.3


def jitter(n, width=0.2):
    # deterministic spread (golden ratio sequence) for horizontal positions
    k = np.arange(n)
    return ((k * 0.6180339887 + 0.45) % 1.0 - 0.5) * 2 * width


for i in range(10):
    row = i // 5
    left, right = lr[i]
    ax = fig.add_axes([left, row_bottom[row], right - left, ax_h])

    stats = []
    for b in (box_high[i], box_low[i]):
        stats.append({"whislo": b[0], "q1": b[1], "med": b[2], "q3": b[3], "whishi": b[4], "fliers": []})
    bp = ax.bxp(stats, positions=[1, 2], widths=0.7, showcaps=False, showfliers=False,
                patch_artist=True, zorder=1)
    for j, c in enumerate([box_col_high, box_col_low]):
        bp["boxes"][j].set_facecolor("white")
        bp["boxes"][j].set_edgecolor(c)
        bp["boxes"][j].set_linewidth(0.45)
        bp["medians"][j].set_color(c)
        bp["medians"][j].set_linewidth(0.9)
        for w in bp["whiskers"][2 * j:2 * j + 2]:
            w.set_color(c)
            w.set_linewidth(0.45)

    for pos, vals, c in [(1, values_high[i], col_high), (2, values_low[i], col_low)]:
        v = np.sort(np.array(vals))[::-1]
        ax.scatter(pos + jitter(len(v)), v, s=4.0, color=c, linewidths=0, zorder=3)

    y0, y1 = ylims[i]
    rng = y1 - y0
    yb = y1 - 0.0445 * rng
    ax.plot([1, 1, 2, 2], [yb - 0.0265 * rng, yb, yb, yb - 0.0265 * rng],
            color="black", lw=0.35, zorder=4)
    ax.annotate(pvals[i], xy=(1.5, yb), xytext=(0, 1.0), textcoords="offset points",
                ha="center", va="bottom", fontsize=4.8, family=label_font)

    ax.set_xlim(0.4, 2.6)
    ax.set_ylim(y0, y1)
    ax.set_xticks([1, 2])
    ax.set_xticklabels(groups)
    ax.set_yticks(yticks[i])
    if drugs[i] == "Rapamycin":
        ax.yaxis.set_major_formatter(FormatStrFormatter("%.1f"))
    else:
        ax.yaxis.set_major_formatter(FormatStrFormatter("%d"))
    ax.tick_params(axis="both", direction="out", length=2.35, width=0.45, color="#333333",
                   labelsize=tick_size, labelcolor="#4D4D4D", pad=2.2)
    for lab in ax.get_xticklabels() + ax.get_yticklabels():
        lab.set_family(tick_font)
    for sp in ax.spines.values():
        sp.set_color("#555555")
        sp.set_linewidth(0.45)
    ax.set_ylabel(drugs[i] + " Sensitivity (IC50)", fontsize=9.6, family=label_font)
    ax.yaxis.label.set_va("center")
    ax.yaxis.set_label_coords(ylab_x[i], 0.5)
    ax.set_xlabel("Risk", fontsize=8.8, family=label_font)
    ax.xaxis.label.set_va("center")
    ax.xaxis.set_label_coords(0.5, -0.128)

fig.savefig("out.png", dpi=300, facecolor="white")
